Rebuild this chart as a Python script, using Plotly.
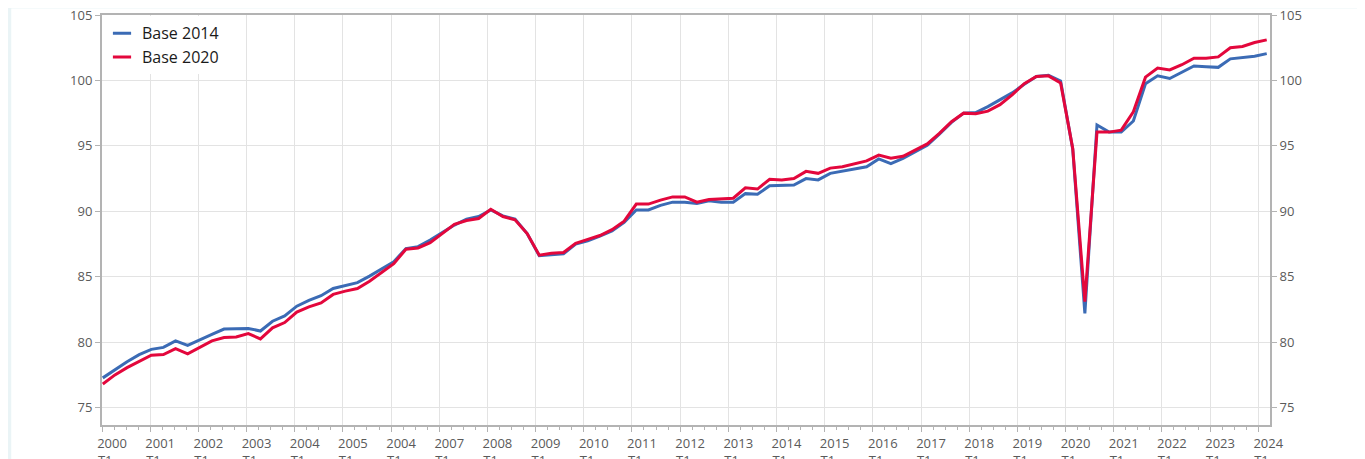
import plotly.graph_objects as go

# quarterly index, 2000 T1 .. 2024 T1
base_2014 = [
    77.27, 77.9, 78.5, 79.05, 79.45, 79.6, 80.1, 79.75, 80.2, 80.6,
    81.0, 81.0, 81.05, 80.85, 81.6, 82.0, 82.75, 83.2, 83.55, 84.1,
    84.35, 84.55, 85.05, 85.6, 86.15, 87.15, 87.3, 87.8, 88.4, 88.95,
    89.4, 89.6, 90.1, 89.65, 89.4, 88.3, 86.6, 86.7, 86.75, 87.5,
    87.75, 88.1, 88.5, 89.15, 90.1, 90.1, 90.45, 90.7, 90.7, 90.6,
    90.8, 90.7, 90.7, 91.35, 91.3, 91.95, 91.95, 92.0, 92.5, 92.4,
    92.9, 93.05, 93.2, 93.4, 94.0, 93.65, 94.05, 94.55, 95.05, 95.9,
    96.8, 97.5, 97.55, 98.0, 98.5, 99.05, 99.7, 100.3, 100.4, 99.95,
    94.75, 82.2, 96.6, 96.05, 96.05, 96.9, 99.75, 100.35, 100.15, 100.6,
    101.1, 101.05, 101.0, 101.65, 101.75, 101.85, 102.05,
]
base_2020 = [
    76.8, 77.5, 78.05, 78.5, 79.0, 79.05, 79.5, 79.1, 79.6, 80.1,
    80.35, 80.4, 80.65, 80.25, 81.1, 81.5, 82.3, 82.7, 83.0, 83.65,
    83.9, 84.1, 84.65, 85.3, 86.0, 87.1, 87.2, 87.6, 88.3, 89.0,
    89.3, 89.45, 90.15, 89.6, 89.35, 88.3, 86.65, 86.8, 86.85, 87.55,
    87.85, 88.15, 88.6, 89.25, 90.55, 90.55, 90.85, 91.1, 91.1, 90.7,
    90.9, 90.95, 91.0, 91.8, 91.7, 92.45, 92.4, 92.5, 93.05, 92.9,
    93.3, 93.4, 93.6, 93.85, 94.3, 94.05, 94.2, 94.65, 95.15, 95.95,
    96.85, 97.5, 97.45, 97.65, 98.15, 98.9, 99.75, 100.3, 100.35, 99.8,
    94.8, 83.1, 96.05, 96.05, 96.2, 97.6, 100.25, 100.95, 100.8, 101.2,
    101.7, 101.7, 101.8, 102.5, 102.6, 102.9, 103.1,
]
year_labels = ["2000", "2001", "2002", "2003", "2004", "2005", "2004", "2007",
               "2008", "2009", "2010", "2011", "2012", "2013", "2014", "2015",
               "2016", "2017", "2018", "2019", "2020", "2021", "2022", "2023", "2024"]
y_ticks = [75, 80, 85, 90, 95, 100, 105]

BLUE = "#3b6bb5"
RED = "#e3073c"
GRID = "#e3e3e3"
AXIS = "#b3b3b3"
TXT = "#5a5a5a"
FONT = "Open Sans, Noto Sans, sans-serif"

quarters = list(range(len(base_2014)))

# in the source the year ticks run a touch tighter than the quarterly points
tick_step = 0.9934
x0 = -0.066
major = [x0 + 4 * tick_step * k for k in range(len(year_labels))]
minor = [x0 + tick_step * j for j in range(4 * (len(year_labels) - 1) + 1) if j % 4]
tick_text = [f"{y}<br>T1\u00a0\u00a0\u00a0\u00a0" for y in year_labels]

fig = go.Figure()

fig.add_trace(go.Scatter(x=quarters, y=base_2014, mode="lines",
                         line=dict(color=BLUE, width=3), showlegend=False,
                         name="Base 2014"))
fig.add_trace(go.Scatter(x=quarters, y=base_2020, mode="lines",
                         line=dict(color=RED, width=3), showlegend=False,
                         name="Base 2020"))

# short legend keys
for name, col in [("Base 2014", BLUE), ("Base 2020", RED)]:
    fig.add_trace(go.Scatter(x=[None], y=[None], mode="markers", name=name,
                             marker=dict(symbol="line-ew", size=13, color=col,
                                         line=dict(width=3, color=col))))

# invisible trace to carry the right-hand axis
fig.add_trace(go.Scatter(x=[None], y=[None], yaxis="y2", showlegend=False,
                         hoverinfo="skip"))

# white card on the pale page
fig.add_shape(type="rect", xref="paper", yref="paper",
              x0=-0.0777, x1=1.0794, y0=-0.1, y1=1.0159,
              fillcolor="white", line=dict(width=0), layer="below")

yaxis_common = dict(
    range=[73.67, 105], automargin=False,
    tickmode="array", tickvals=y_ticks,
    ticks="outside", ticklen=5, tickcolor=AXIS,
    showline=True, linecolor=AXIS, linewidth=2,
    zeroline=False, ticklabeloverflow="allow",
    tickfont=dict(size=13, color=TXT),
)

fig.update_layout(
    width=1357, height=451,
    margin=dict(l=94, r=95, t=7, b=34, autoexpand=False),
    paper_bgcolor="#eaf4f6",
    plot_bgcolor="white",
    font=dict(family=FONT, size=13, color=TXT),
    legend=dict(x=0.0, y=0.997, xanchor="left", yanchor="top",
                bgcolor="white", font=dict(size=16, color="#1a1a1a"),
                borderwidth=0),
    xaxis=dict(
        range=[x0, 96.27], automargin=False,
        tickmode="array", tickvals=major, ticktext=tick_text,
        ticks="outside", ticklen=5, tickcolor=AXIS, tickwidth=1,
        minor=dict(tickmode="array", tickvals=minor, ticks="outside",
                   ticklen=3, tickcolor=AXIS, showgrid=False),
        ticklabelshift=10, ticklabeloverflow="allow",
        showgrid=True, gridcolor=GRID, gridwidth=1,
        showline=True, linecolor=AXIS, linewidth=2, mirror=True,
        zeroline=False,
        tickfont=dict(size=13, color=TXT),
    ),
    yaxis=dict(showgrid=True, gridcolor=GRID, gridwidth=1, **yaxis_common),
    yaxis2=dict(overlaying="y", side="right", matches="y", showgrid=False,
                **yaxis_common),
)

fig.write_html("out.html")
